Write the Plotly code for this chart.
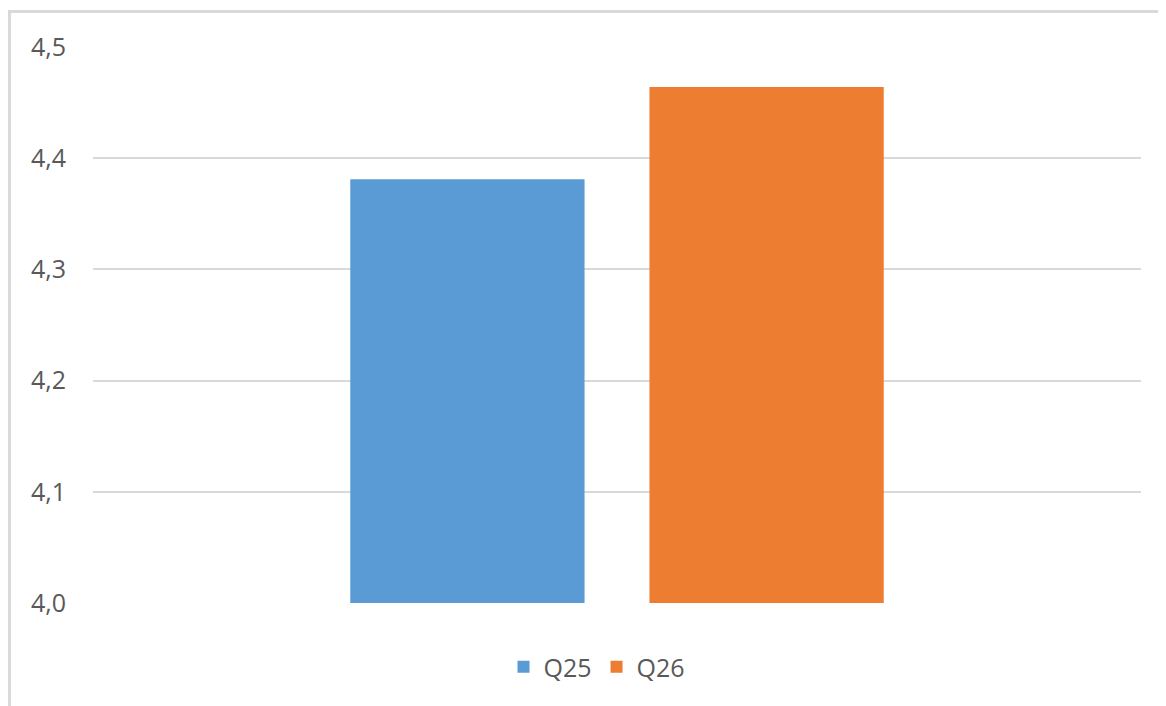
import plotly.graph_objects as go

categories = [""]
series_names = ["Q25", "Q26"]
q25_values = [4.381]
q26_values = [4.464]
colors = ["#5B9BD5", "#ED7D31"]
y_ticks = [4.0, 4.1, 4.2, 4.3, 4.4, 4.5]

fig = go.Figure()
for name, vals, col in zip(series_names, [q25_values, q26_values], colors):
    fig.add_trace(go.Bar(x=categories, y=vals, name=name, marker=dict(color=col, line=dict(width=0))))

W, H = 1166, 706
off = 8  # page body margin
ml, mt = 93 - off, 47 - off
mr = W - (1141 - off)
mb = H - (603 - off)
pw, ph = W - ml - mr, H - mt - mb

def px_to_paper_x(px):
    return (px - off - ml) / pw

def px_to_paper_y(py):
    return ((603 - off) - (py - off)) / ph if False else (603 - py) / ph

fig.update_layout(
    width=W, height=H,
    margin=dict(l=ml, r=mr, t=mt, b=mb),
    paper_bgcolor="white", plot_bgcolor="white",
    barmode="group", bargap=0.429, bargroupgap=0.217,
    separators=",.",
    font=dict(family="Open Sans", size=25, color="#595959"),
    showlegend=True,
    legend=dict(orientation="h", x=px_to_paper_x(597), xanchor="center",
                y=px_to_paper_y(667), yanchor="middle",
                font=dict(size=25, color="#595959"), itemwidth=30, traceorder="normal"),
    xaxis=dict(showticklabels=False, showgrid=False, zeroline=False, showline=False),
    yaxis=dict(range=[4.0, 4.5], tickvals=y_ticks, tickformat=".1f",
               showgrid=True, gridcolor="#D9D9D9", gridwidth=2,
               zeroline=False, showline=False, ticks="", ticklabelstandoff=26),
    shapes=[dict(type="rect", xref="paper", yref="paper",
                 x0=(1.5 - ml) / pw, x1=1.3, y0=-0.5, y1=(603 - 11.5) / ph,
                 line=dict(color="#D9D9D9", width=3), fillcolor="rgba(0,0,0,0)", layer="below")],
)

fig.write_html("out.html")
